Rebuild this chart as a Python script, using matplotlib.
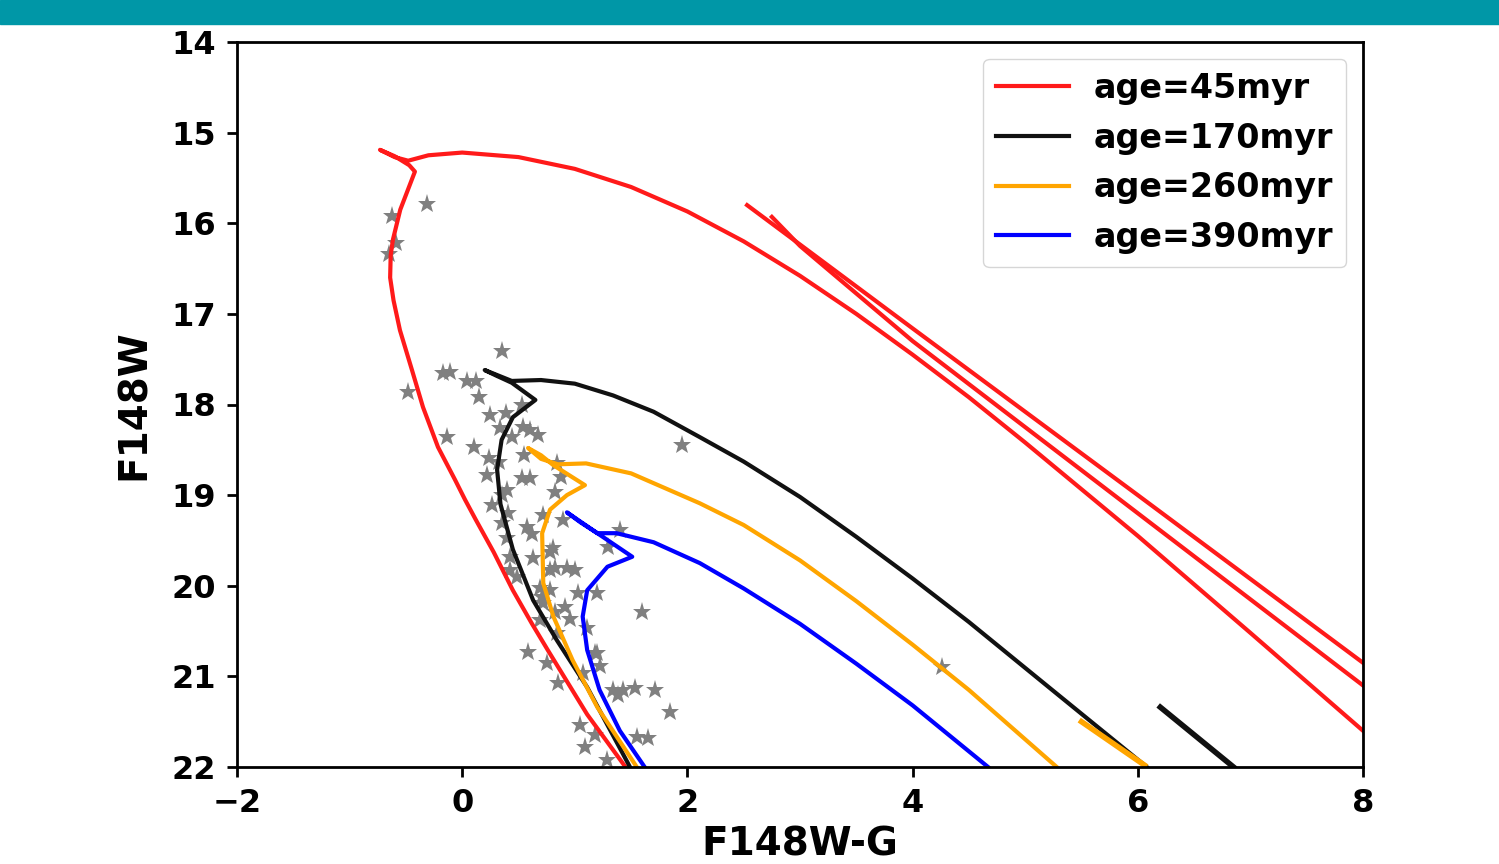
import matplotlib.pyplot as plt
from matplotlib.patches import Rectangle

# Isochrones (F148W-G colour, F148W magnitude), traced along each track
iso45_c = [1.45, 1.11, 0.76, 0.62, 0.45, 0.28, 0.12, 0.025, -0.064, -0.215, -0.348, -0.446,
           -0.553, -0.61, -0.64, -0.635, -0.615, -0.55, -0.42, -0.47, -0.6, -0.73, -0.6,
           -0.48, -0.3, 0.0, 0.5, 1.0, 1.5, 2.0, 2.5, 3.0, 3.5, 4.0, 4.5, 5.0, 6.0, 7.0, 8.0]
iso45_m = [22.0, 21.42, 20.71, 20.42, 20.05, 19.63, 19.27, 19.05, 18.83, 18.47, 18.03, 17.62,
           17.18, 16.85, 16.6, 16.35, 16.18, 15.85, 15.43, 15.36, 15.26, 15.19, 15.27,
           15.31, 15.25, 15.22, 15.27, 15.4, 15.6, 15.87, 16.2, 16.58, 17.0, 17.45, 17.92,
           18.42, 19.45, 20.52, 21.6]
giant45a_c = [2.53, 4.0, 6.0, 8.0]
giant45a_m = [15.8, 17.16, 19.0, 20.85]
giant45b_c = [2.75, 3.0, 4.0, 6.0, 8.0]
giant45b_m = [15.93, 16.25, 17.3, 19.2, 21.1]

iso170_c = [1.49, 1.11, 0.84, 0.63, 0.45, 0.34, 0.31, 0.35, 0.45, 0.65, 0.44, 0.3, 0.2,
            0.3, 0.44, 0.7, 1.0, 1.34, 1.7, 2.11, 2.5, 3.0, 3.5, 4.0, 4.5, 5.22, 6.08]
iso170_m = [22.0, 21.12, 20.6, 20.16, 19.6, 19.1, 18.72, 18.39, 18.14, 17.95, 17.76, 17.68,
            17.62, 17.67, 17.74, 17.73, 17.77, 17.9, 18.08, 18.36, 18.63, 19.02, 19.46,
            19.92, 20.4, 21.13, 22.0]
giant170_c = [6.2, 6.85]
giant170_m = [21.34, 22.0]

iso260_c = [1.55, 1.2, 0.98, 0.81, 0.72, 0.71, 0.78, 0.93, 1.09, 0.81, 0.7, 0.585, 0.7,
            0.85, 1.1, 1.5, 2.11, 2.5, 3.0, 3.5, 4.0, 4.5, 5.28]
iso260_m = [22.0, 21.34, 20.82, 20.34, 19.97, 19.42, 19.16, 19.0, 18.89, 18.67, 18.56,
            18.48, 18.6, 18.66, 18.65, 18.76, 19.09, 19.33, 19.72, 20.17, 20.65, 21.15, 22.0]
giant260_c = [5.5, 6.06]
giant260_m = [21.5, 21.98]

iso390_c = [1.62, 1.4, 1.22, 1.11, 1.07, 1.11, 1.29, 1.51, 1.2, 0.93, 1.05, 1.2, 1.37,
            1.7, 2.11, 2.5, 3.0, 3.5, 4.0, 4.67]
iso390_m = [22.0, 21.6, 21.15, 20.71, 20.34, 20.05, 19.79, 19.68, 19.42, 19.19, 19.3,
            19.42, 19.42, 19.52, 19.75, 20.03, 20.42, 20.86, 21.32, 22.0]

# Observed cluster members
star_c = [-0.623, -0.313, -0.588, -0.650, 0.353, -0.171, -0.108, 0.043, 0.122, 0.149,
          -0.481, 0.247, 0.389, 0.531, 0.336, 0.442, 0.540, 0.602, 0.673, -0.135,
          0.105, 0.238, 0.327, 0.549, 0.220, 0.531, 0.602, 0.842, 0.877, 0.398,
          0.824, 0.265, 0.353, 0.407, 0.718, 0.895, 0.575, 0.620, 0.353, 0.398,
          0.806, 1.401, 1.295, 0.424, 0.629, 0.780, 0.824, 0.931, 1.002, 0.424,
          0.487, 0.691, 1.028, 1.197, 0.709, 0.913, 0.957, 1.597, 0.691, 1.108,
          0.842, 1.197, 0.584, 0.753, 1.224, 0.851, 1.073, 1.339, 1.428, 1.535,
          1.712, 1.384, 1.846, 1.046, 1.090, 1.552, 1.650, 1.286, 1.952, 4.261,
          1.179, 0.780, 0.718, 0.824, 0.780, 1.179]
star_m = [15.92, 15.79, 16.22, 16.34, 17.41, 17.65, 17.64, 17.74, 17.74, 17.92,
          17.86, 18.12, 18.09, 18.01, 18.26, 18.36, 18.25, 18.28, 18.34, 18.36,
          18.47, 18.59, 18.63, 18.56, 18.78, 18.81, 18.81, 18.65, 18.80, 18.94,
          18.97, 19.11, 19.00, 19.20, 19.22, 19.27, 19.35, 19.43, 19.31, 19.47,
          19.58, 19.38, 19.57, 19.68, 19.69, 19.63, 19.80, 19.80, 19.83, 19.83,
          19.90, 20.02, 20.08, 20.08, 20.12, 20.23, 20.37, 20.29, 20.38, 20.47,
          20.52, 20.74, 20.73, 20.85, 20.89, 21.07, 20.96, 21.15, 21.15, 21.13,
          21.15, 21.21, 21.39, 21.54, 21.78, 21.67, 21.68, 21.92, 18.45, 20.90,
          21.65, 20.05, 20.19, 20.29, 19.83, 20.74]

fig = plt.figure(figsize=(14.99, 8.64), dpi=100)
fig.patches.append(Rectangle((0, 1 - 24 / 864), 1, 24 / 864, transform=fig.transFigure,
                             color='#0097a7', zorder=0))
ax = fig.add_axes([237 / 1499, 1 - 767 / 864, 1126 / 1499, 725 / 864])

lw = 3
ax.plot(star_c, star_m, linestyle='none', marker='*', color='gray', markersize=14,
        markeredgewidth=0, zorder=1)
ax.plot(iso45_c, iso45_m, color='#ff1a1a', lw=lw, label='age=45myr')
ax.plot(giant45a_c, giant45a_m, color='#ff1a1a', lw=lw)
ax.plot(giant45b_c, giant45b_m, color='#ff1a1a', lw=lw)
ax.plot(iso170_c, iso170_m, color='#111111', lw=lw, label='age=170myr')
ax.plot(giant170_c, giant170_m, color='#111111', lw=lw + 1)
ax.plot(iso260_c, iso260_m, color='orange', lw=lw, label='age=260myr')
ax.plot(giant260_c, giant260_m, color='orange', lw=lw + 1)
ax.plot(iso390_c, iso390_m, color='blue', lw=lw, label='age=390myr')

ax.set_xlim(-2, 8)
ax.set_ylim(22, 14)
ax.set_xticks([-2, 0, 2, 4, 6, 8])
ax.set_yticks(range(14, 23))
ax.tick_params(direction='out', length=7, width=2, labelsize=23, pad=8)
for lab in ax.get_xticklabels() + ax.get_yticklabels():
    lab.set_fontweight('bold')
for sp in ax.spines.values():
    sp.set_linewidth(2)

ax.set_xlabel('F148W-G', fontsize=28, fontweight='bold', labelpad=5)
ax.set_ylabel('F148W', fontsize=28, fontweight='bold', labelpad=13)

ax.legend(loc='upper right', prop={'size': 24, 'weight': 'bold'}, labelspacing=0.5,
          handlelength=2.16, handletextpad=0.75, borderpad=0.4, fancybox=True)

fig.savefig('out.png', dpi=100)
